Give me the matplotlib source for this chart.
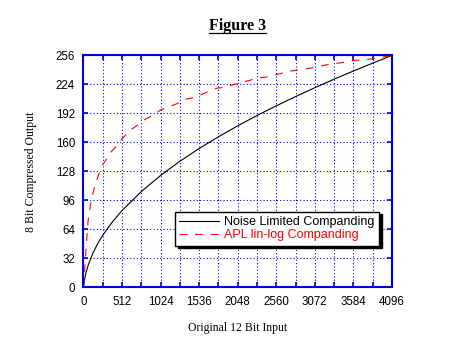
"""Companding curves: 12 bit input mapped to 8 bit output."""

import matplotlib
matplotlib.use("Agg")
import matplotlib.pyplot as plt
from matplotlib.lines import Line2D

# Noise limited companding (square-root style law)
noise_x = [0, 16, 32, 64, 128, 192, 256, 384, 512, 768, 1024, 1280, 1536,
           1792, 2048, 2304, 2560, 2816, 3072, 3328, 3584, 3840, 4096]
noise_y = [0, 9.7, 15.9, 25.1, 38.5, 48.9, 57.7, 72.4, 84.9, 105.9, 123.6,
           139.3, 153.4, 166.3, 178.4, 189.8, 200.5, 210.7, 220.5, 229.9,
           238.9, 247.6, 256]

# APL lin-log companding (linear start, logarithmic above)
apl_x = [0, 20, 33, 60, 104, 150, 236, 300, 348, 427, 501, 612, 714, 825,
         931, 1024, 1143, 1244, 1355, 1453, 1572, 1674, 1775, 1881, 1997,
         2098, 2208, 2297, 2407, 2518, 2629, 2730, 2841, 2939, 3049, 3151,
         3261, 3368, 3479, 3580, 3691, 3792, 3903, 4000, 4096]
apl_y = [0, 25, 42, 73, 97, 112, 133, 141, 148, 155, 163, 173, 179, 186,
         190, 196, 199.5, 203, 207.6, 209.4, 213, 217, 220, 221, 224,
         226.4, 228.6, 231, 232, 234, 236.4, 238.6, 240, 241, 242.6, 244.4,
         246.3, 247.4, 248.8, 250.5, 251, 252, 253, 254.7, 256]

x_major = list(range(0, 4097, 512))
x_minor = list(range(256, 4096, 512))
y_major = list(range(0, 257, 32))

BLUE = "#0000dd"
GRID_BLUE = "#0000ff"

fig = plt.figure(figsize=(4.61, 3.46), dpi=100)
ax = fig.add_axes([0.1811, 0.1691, 0.6692, 0.6705])

ax.plot(noise_x, noise_y, color="black", lw=0.8,
        label="Noise Limited Companding")
ax.plot(apl_x, apl_y, color="red", lw=0.8, linestyle=(0, (7, 7)),
        label="APL lin-log Companding")

ax.set_xlim(0, 4096)
ax.set_ylim(0, 256)
ax.set_xticks(x_major)
ax.set_xticks(x_minor, minor=True)
ax.set_yticks(y_major)

for side in ax.spines.values():
    side.set_color(BLUE)
    side.set_linewidth(1.5)

ax.grid(True, which="both", color=GRID_BLUE, lw=0.8, linestyle=(0, (1, 2)))
ax.tick_params(which="both", direction="in", length=3.6, width=1.2,
               color=BLUE, top=True, right=True, pad=6)
ax.tick_params(labelsize=8.3)
for lab in ax.get_xticklabels() + ax.get_yticklabels():
    lab.set_fontfamily("Liberation Sans")

ax.set_xlabel("Original 12 Bit Input", family="Liberation Serif", fontsize=8.5)
ax.set_ylabel("8 Bit Compressed Output", family="Liberation Serif",
              fontsize=8.5)
ax.xaxis.set_label_coords(0.5, -0.149)
ax.yaxis.set_label_coords(-0.152, 0.5)

leg = ax.legend(loc="upper left", bbox_to_anchor=(0.297, 0.327),
                borderaxespad=0, fancybox=False, framealpha=1,
                edgecolor="black", labelcolor="linecolor",
                prop={"family": "Liberation Sans", "size": 9},
                handlelength=3.2, handletextpad=0.4, borderpad=0.35,
                labelspacing=0.1,
                shadow={"color": "black", "alpha": 1})
leg.get_frame().set_linewidth(1.0)

title = fig.text(0.515, 0.925, "Figure 3", ha="center", va="center",
                 family="Liberation Serif", weight="bold", fontsize=11.5)

# underline the title
fig.canvas.draw()
bb = title.get_window_extent().transformed(fig.transFigure.inverted())
fig.add_artist(Line2D([bb.x0, bb.x1], [bb.y0 + 0.004, bb.y0 + 0.004],
                      color="black", lw=0.9, transform=fig.transFigure))

fig.savefig("out.png", dpi=100)
